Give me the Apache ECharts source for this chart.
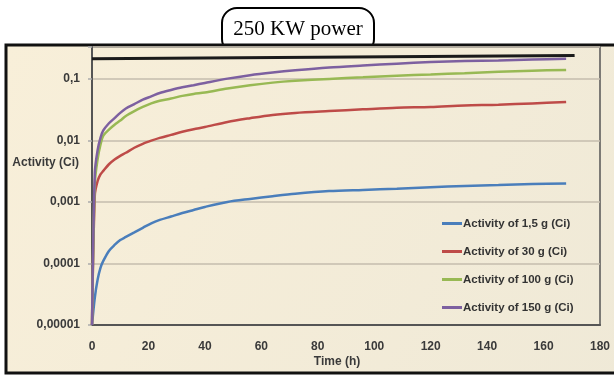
<!DOCTYPE html>
<html>
<head>
<meta charset="utf-8">
<script src="https://cdn.jsdelivr.net/npm/echarts@6/dist/echarts.min.js"></script>
<style>html,body{margin:0;padding:0;background:#fff;}#c{width:614px;height:377px;}</style>
</head>
<body>
<div id="c"></div>
<script>
const times = [0, 1, 2, 3, 4, 6, 8, 10, 12, 15, 18, 21, 24, 28, 32, 36, 40, 48, 56, 64, 72, 84, 96, 108, 120, 132, 144, 156, 168];
const act150 = [0.00001, 0.003, 0.007, 0.011, 0.0145, 0.019, 0.023, 0.028, 0.033, 0.039, 0.046, 0.052, 0.059, 0.066, 0.073, 0.079, 0.086, 0.101, 0.115, 0.127, 0.138, 0.153, 0.165, 0.177, 0.188, 0.195, 0.200, 0.206, 0.212];
const act100 = [0.00001, 0.002, 0.005, 0.0085, 0.012, 0.015, 0.018, 0.021, 0.025, 0.030, 0.035, 0.040, 0.044, 0.048, 0.053, 0.057, 0.060, 0.070, 0.079, 0.087, 0.093, 0.100, 0.106, 0.113, 0.118, 0.124, 0.131, 0.136, 0.140];
const act30 = [0.00001, 0.0013, 0.0022, 0.0028, 0.0032, 0.0041, 0.0049, 0.0056, 0.0063, 0.0076, 0.0088, 0.0099, 0.011, 0.0123, 0.0138, 0.0152, 0.0165, 0.020, 0.023, 0.026, 0.028, 0.030, 0.032, 0.034, 0.035, 0.037, 0.038, 0.040, 0.042];
const act1_5 = [0.00001, 0.000028, 0.000055, 0.000085, 0.00011, 0.00016, 0.00020, 0.00024, 0.00027, 0.00032, 0.00038, 0.00045, 0.00051, 0.00058, 0.00066, 0.00074, 0.00083, 0.0010, 0.00112, 0.00124, 0.00136, 0.0015, 0.00157, 0.00164, 0.00174, 0.00182, 0.00188, 0.00195, 0.0020];
const refTimes = [0, 171];
const refValues = [0.212, 0.24];
const seriesNames = ['Activity of 1,5 g (Ci)', 'Activity of 30 g (Ci)', 'Activity of 100 g (Ci)', 'Activity of 150 g (Ci)'];
const yTickLabels = ['0,00001', '0,0001', '0,001', '0,01', '0,1'];
const xTicks = [0, 20, 40, 60, 80, 100, 120, 140, 160, 180];
const titleText = '250 KW power';
const yAxisTitle = 'Activity (Ci)';
const xAxisTitle = 'Time (h)';

const colors = ['#4a7ebb', '#be4b48', '#98b954', '#7d60a0'];
const seriesValues = [act1_5, act30, act100, act150];
const pairs = (xs, ys) => xs.map((x, i) => [x, ys[i]]);

const chart = echarts.init(document.getElementById('c'), null, {renderer: 'canvas'});
const labelFont = {fontFamily: 'Liberation Sans', fontWeight: 'bold', fontSize: 12, color: '#3a3a3a'};

chart.setOption({
  animation: false,
  backgroundColor: '#ffffff',
  graphic: [
    {type: 'rect', z: -2, shape: {x: 222, y: 8, width: 152, height: 46, r: 15},
     style: {fill: '#ffffff', stroke: '#000', lineWidth: 2}},
    {type: 'rect', z: -1, shape: {x: 6, y: 45, width: 640, height: 328},
     style: {fill: new echarts.graphic.LinearGradient(0, 0, 1, 1, [{offset: 0, color: '#f8efd9'}, {offset: 1, color: '#efe9d7'}]),
             stroke: '#111', lineWidth: 3}},
    {type: 'text', z: 10, x: 298, y: 29,
     style: {text: titleText, font: '21px "Liberation Serif"', fill: '#000', textAlign: 'center', textVerticalAlign: 'middle'}},
    {type: 'text', z: 10, x: 79, y: 163,
     style: {text: yAxisTitle, font: 'bold 12px "Liberation Sans"', fill: '#3a3a3a', textAlign: 'right', textVerticalAlign: 'middle'}},
    {type: 'text', z: 10, x: 337, y: 362,
     style: {text: xAxisTitle, font: 'bold 12px "Liberation Sans"', fill: '#3a3a3a', textAlign: 'center', textVerticalAlign: 'middle'}}
  ],
  grid: {left: 92, right: 14, top: 47, bottom: 52, show: true, borderColor: '#555', borderWidth: 1.5, backgroundColor: 'transparent'},
  legend: {
    data: seriesNames,
    orient: 'vertical',
    left: 437, top: 211,
    itemWidth: 20, itemHeight: 3, itemGap: 13,
    icon: 'rect',
    textStyle: {fontFamily: 'Liberation Sans', fontWeight: 'bold', fontSize: 11.5, lineHeight: 15, color: '#333', padding: [0, 0, 0, -4]}
  },
  xAxis: {
    type: 'value', min: 0, max: 180, interval: 20,
    axisLine: {show: true, lineStyle: {color: '#555', width: 2}},
    axisTick: {show: false},
    axisLabel: Object.assign({margin: 16, formatter: v => xTicks.indexOf(v) >= 0 ? String(v) : ''}, labelFont),
    splitLine: {show: false}
  },
  yAxis: {
    type: 'log', logBase: 10, min: 0.00001, max: 0.33,
    axisLine: {show: true, lineStyle: {color: '#555', width: 2}},
    axisTick: {show: true, length: 4, lineStyle: {color: '#aaa', width: 1.5}},
    axisLabel: Object.assign({margin: 12, formatter: v => {
      const l = Math.log10(v); const e = Math.round(l);
      if (Math.abs(l - e) > 0.01) return '';
      const idx = e + 5; return yTickLabels[idx] || '';
    }}, labelFont),
    splitLine: {show: true, lineStyle: {color: '#c4bdae', width: 1.5}}
  },
  series: seriesNames.map((n, i) => ({
    name: n, type: 'line', symbol: 'none', smooth: 0.3,
    data: pairs(times, seriesValues[i]),
    lineStyle: {color: colors[i], width: 2.5}, itemStyle: {color: colors[i]}, z: 3 + i
  })).concat([{
    name: 'ref', type: 'line', symbol: 'none', data: pairs(refTimes, refValues),
    lineStyle: {color: '#1a1a1a', width: 3}, itemStyle: {color: '#1a1a1a'}, z: 8
  }])
});
</script>
</body>
</html>
